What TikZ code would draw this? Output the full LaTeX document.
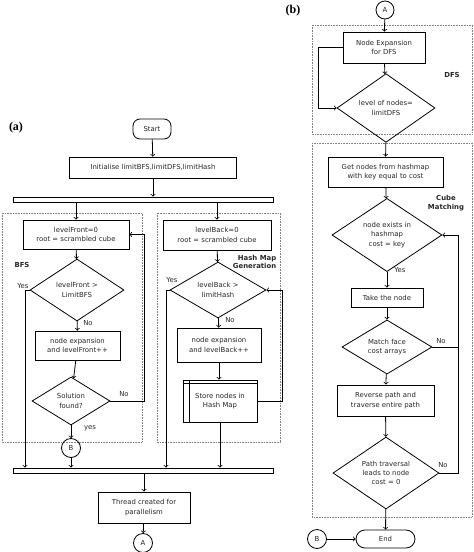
\documentclass[tikz,border=0pt]{standalone}
\usepackage{fontspec}
\setmainfont{DejaVu Sans}
\newfontfamily\capfont{Liberation Serif}
\usetikzlibrary{shapes.geometric}

\begin{document}
\begin{tikzpicture}[x=1pt, y=-1pt, line width=0.8pt,
		every node/.style={font=\fontsize{6.9}{9.3}\selectfont, text=black!85},
		proc/.style={draw, rectangle, align=center, inner sep=0pt},
		decide/.style={draw, diamond, align=center, inner sep=0pt},
		term/.style={draw, rectangle, rounded corners=7pt, inner sep=0pt},
		conn/.style={draw, circle, inner sep=0pt, minimum size=19pt},
		bar/.style={draw, rectangle, inner sep=0pt, minimum height=5pt, minimum width=260pt},
		region/.style={draw=gray, densely dotted, line width=0.6pt},
		tag/.style={font=\bfseries\fontsize{6.9}{8.5}\selectfont, align=center},
		panel/.style={font=\capfont\bfseries\fontsize{12}{14}\selectfont, text=black}]
		\useasboundingbox (0,0) rectangle (474,552);
		
		%dotted regions
		\draw[region] (2,213) rectangle (142,442);
		\draw[region] (157,213) rectangle (280,442);
		\draw[region] (312,25) rectangle (472,134);
		\draw[region] (312,143) rectangle (472,517);
		\node (tagBfs) at (22,265) [tag]{BFS};
		\node (tagHash) at (280,262) [tag, anchor=east, align=right]{Hash Map\\Generation};
		\node (tagDfs) at (452,75) [tag]{DFS};
		\node (tagCube) at (446,203) [tag]{Cube\\Matching};
		
		%panel (a)
		\node (capA) at (16,128) [panel]{(a)};
		\node (start) at (152,129) [term, minimum width=38pt, minimum height=20pt]{Start};
		\node (init) at (153,167.5) [proc, minimum width=167pt, minimum height=21pt]{Initialise limitBFS,limitDFS,limitHash};
		\node (forkTop) at (143,199.5) [bar]{};
		
		\node (front) at (76,234.5) [proc, minimum width=106pt, minimum height=29pt]{levelFront=0\\root = scrambled cube};
		\node (chkFront) at (77,290) [decide, minimum width=94pt, minimum height=62pt]{levelFront >\\LimitBFS};
		\node (expFront) at (77.5,345.5) [proc, minimum width=85pt, minimum height=29pt]{node expansion\\and levelFront++};
		\node (solved) at (71,401) [decide, minimum width=78pt, minimum height=48pt]{Solution\\found?};
		\node (bLeft) at (71,448) [conn]{B};
		
		\node (back) at (217,235) [proc, minimum width=108pt, minimum height=30pt]{levelBack=0\\root = scrambled cube};
		\node (chkBack) at (218,290) [decide, minimum width=96pt, minimum height=56pt]{levelBack >\\limitHash};
		\node (expBack) at (219,345) [proc, minimum width=84pt, minimum height=34pt]{node expansion\\and levelBack++};
		\node (store) at (220,401) [proc, minimum width=74pt, minimum height=42pt]{Store nodes in\\Hash Map};
		\draw ([xshift=7pt]store.north west) -- ([xshift=7pt]store.south west);
		\draw ([yshift=-4pt]store.north west) -- ([yshift=-4pt]store.north east);
		
		\node (joinBot) at (143,470.5) [bar]{};
		\node (thread) at (144,507.5) [proc, minimum width=92pt, minimum height=31pt]{Thread created for\\parallelism};
		\node (aLeft) at (143,543) [conn]{A};
		
		\node (yesF) at (23,286) {Yes};
		\node (noF) at (88,323) {No};
		\node (noS) at (124,394) {No};
		\node (yesS) at (90,428) {yes};
		\node (yesB) at (172,280) {Yes};
		\node (noB) at (230,320) {No};
		
		\coordinate (railFront) at (25,0);
		\coordinate (loopFront) at (144,0);
		\coordinate (railBack) at (166,0);
		\coordinate (loopBack) at (282,0);
		
		\draw[->] (start) -- (init);
		\draw[->] (init) -- (init |- forkTop.north);
		\foreach \n in {front, back}{
			\draw[->] (\n |- forkTop.south) -- (\n);
		}
		\draw[->] (front) -- (chkFront);
		\draw[->] (chkFront) -- (expFront);
		\draw[->] (expFront) -- (solved);
		\draw[->] (solved) -- (bLeft);
		\draw[->] (chkFront.west) -| (railFront |- joinBot.north);
		\draw[->] (solved.east) -| (loopFront |- front.east) -- (front.east);
		\draw[->] (back) -- (chkBack);
		\draw[->] (chkBack) -- (expBack);
		\draw[->] (expBack) -- (expBack |- store.north);
		\draw[->] (chkBack.west) -| (railBack |- joinBot.north);
		\draw[->] (store.east) -| (loopBack |- chkBack.east) -- (chkBack.east);
		\foreach \n in {bLeft, store}{
			\draw[->] (\n) -- (\n |- joinBot.north);
		}
		\draw[->] (joinBot.south -| thread) -- (thread);
		\draw[->] (thread) -- (aLeft);
		
		%panel (b)
		\node (capB) at (293,11) [panel]{(b)};
		\node (aRight) at (385,10) [conn, minimum size=18pt]{A};
		\node (dfsExp) at (384,47.5) [proc, minimum width=82pt, minimum height=31pt]{Node Expansion\\for DFS};
		\node (chkDfs) at (386,108) [decide, minimum width=98pt, minimum height=56pt]{level of nodes=\\limitDFS};
		\node (getNodes) at (385.5,172) [proc, minimum width=115pt, minimum height=30pt]{Get nodes from hashmap\\with key equal to cost};
		\node (exists) at (387,235) [decide, minimum width=110pt, minimum height=66pt]{node exists in\\hashmap\\cost = key};
		\node (take) at (387,297.5) [proc, minimum width=72pt, minimum height=19pt]{Take the node};
		\node (match) at (387,347) [decide, minimum width=90pt, minimum height=44pt]{Match face\\cost arrays};
		\node (reverse) at (385.5,400.5) [proc, minimum width=97pt, minimum height=31pt]{Reverse path and\\traverse entire path};
		\node (path) at (386,473) [decide, minimum width=106pt, minimum height=72pt]{Path traversal\\leads to node\\cost = 0};
		\node (endT) at (385.5,539) [term, rounded corners=9pt, minimum width=59pt, minimum height=18pt]{End};
		\node (bRight) at (317,539) [conn]{B};
		
		\node (yesE) at (400,270) {Yes};
		\node (noM) at (441,341) {No};
		\node (noP) at (443,465) {No};
		
		\coordinate (loopDfs) at (318,0);
		\coordinate (loopCube) at (458,0);
		
		\draw[->] (aRight) -- (dfsExp);
		\draw[->] (dfsExp) -- (chkDfs);
		\draw[->] (dfsExp.west) -| (loopDfs |- chkDfs.west) -- (chkDfs.west);
		\draw[->] (chkDfs) -- (getNodes);
		\draw[->] (getNodes) -- (exists);
		\draw[->] (exists) -- (take);
		\draw[->] (take) -- (match);
		\draw[->] (match) -- (reverse);
		\draw[->] (reverse) -- (path);
		\draw[->] (path) -- (endT);
		\draw[->] (bRight) -- (endT);
		\draw (match.east) -- (loopCube |- match.east);
		\draw[->] (path.east) -| (loopCube |- exists.east) -- (exists.east);
		\end{tikzpicture}
\end{document}
